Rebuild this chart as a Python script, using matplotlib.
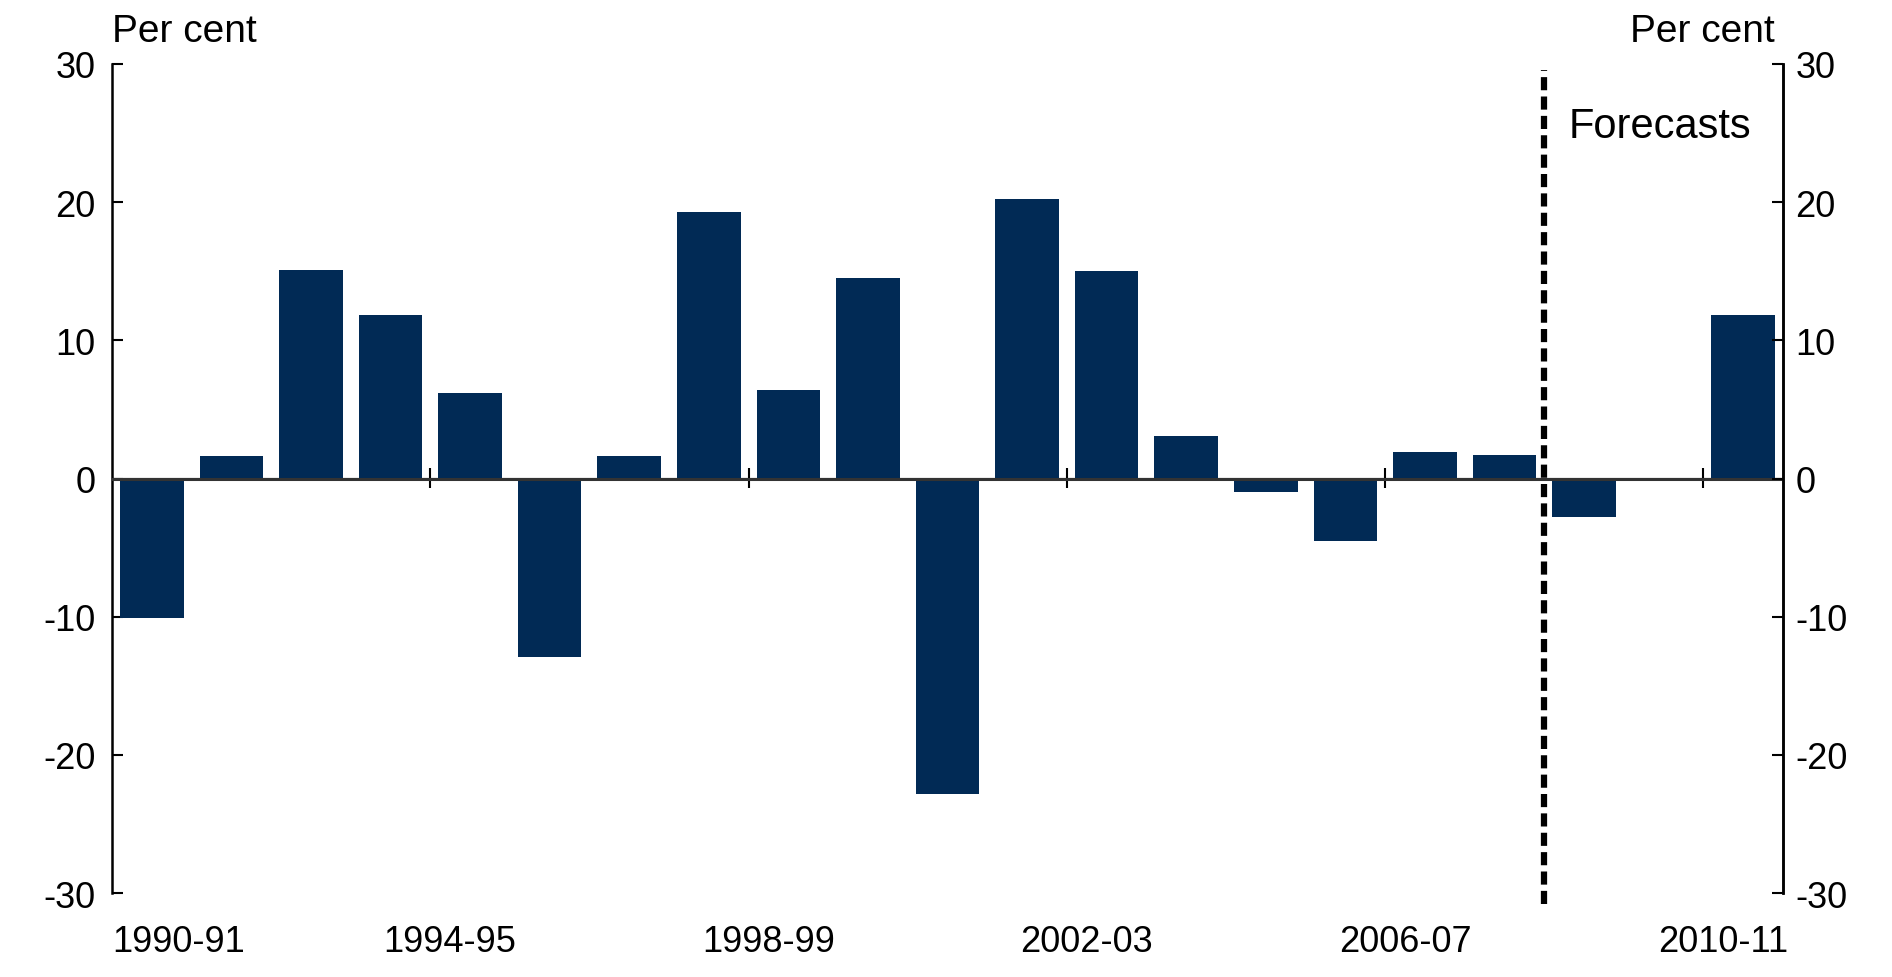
import numpy as np
import matplotlib
matplotlib.use('Agg')
import matplotlib.pyplot as plt

# Dades del grafic
anys = ['1990-91', '1991-92', '1992-93', '1993-94', '1994-95', '1995-96',
        '1996-97', '1997-98', '1998-99', '1999-00', '2000-01', '2001-02',
        '2002-03', '2003-04', '2004-05', '2005-06', '2006-07', '2007-08',
        '2008-09', '2009-10', '2010-11']
valors = [-10.1, 1.6, 15.1, 11.8, 6.2, -12.9, 1.6, 19.3, 6.4, 14.5, -22.8,
          20.2, 15.0, 3.1, -1.0, -4.5, 1.9, 1.7, -2.8, 0.0, 11.8]
etiquetes_x = ['1990-91', '1994-95', '1998-99', '2002-03', '2006-07', '2010-11']
yticks = [-30, -20, -10, 0, 10, 20, 30]

plt.rcParams['font.family'] = ['Liberation Sans', 'DejaVu Sans']
plt.rcParams['axes.unicode_minus'] = False
fs = 26
fs_txt = 28
color_barra = '#012A55'

fig = plt.figure(figsize=(18.92, 9.78), dpi=100)
ax = fig.add_axes([112 / 1892, 1 - 894 / 978, (1783 - 112) / 1892, (894 - 65) / 978])

x = np.arange(len(anys))
ax.bar(x, valors, width=0.8, color=color_barra, zorder=2)

ax.set_xlim(-0.5, len(anys) - 0.5)
ax.set_ylim(-30, 30)

# eix y esquerre
ax.set_yticks(yticks)
ax.tick_params(axis='y', direction='in', length=8, width=1.5, labelsize=fs, pad=12)
for s in ['top', 'bottom']:
    ax.spines[s].set_visible(False)
for s in ['left', 'right']:
    ax.spines[s].set_linewidth(1.8)

# eix y dret
ax2 = ax.twinx()
ax2.set_ylim(-30, 30)
ax2.set_yticks(yticks)
ax2.tick_params(axis='y', direction='in', length=8, width=1.5, labelsize=fs, pad=9)
for s in ['top', 'bottom', 'left']:
    ax2.spines[s].set_visible(False)
ax2.spines['right'].set_linewidth(1.8)

# etiquetes de l'eix x a baix (la primera arrimada a l'eix)
idx = [anys.index(e) for e in etiquetes_x]
pos_etiq = [-0.5] + [i - 0.25 for i in idx[1:]]
ax.set_xticks(pos_etiq)
ax.set_xticklabels(etiquetes_x)
ax.tick_params(axis='x', length=0, labelsize=fs, pad=22)
ax.get_xticklabels()[0].set_horizontalalignment('left')

# linia del zero amb marques cada quatre anys
ax.axhline(0, color='#333333', lw=2.2, zorder=3)
eix0 = ax.secondary_xaxis(0.5)
eix0.set_xticks([i - 0.5 for i in idx[1:]])
eix0.set_xticklabels([])
eix0.tick_params(axis='x', direction='inout', length=14, width=1.5)
eix0.spines['bottom'].set_visible(False)

# linia de previsions
ax.axvline(anys.index('2008-09') - 0.5, ymin=-0.013, ymax=0.993, color='black',
           lw=4.5, dashes=(2.1, 1.0), clip_on=False, zorder=4)
ax.text(17.8, 25.5, 'Forecasts', fontsize=30, va='center', ha='left')

ax.text(0, 1.028, 'Per cent', transform=ax.transAxes, fontsize=fs_txt,
        ha='left', va='baseline')
ax.text(0.995, 1.028, 'Per cent', transform=ax.transAxes, fontsize=fs_txt,
        ha='right', va='baseline')

fig.savefig('out.png', dpi=100)
